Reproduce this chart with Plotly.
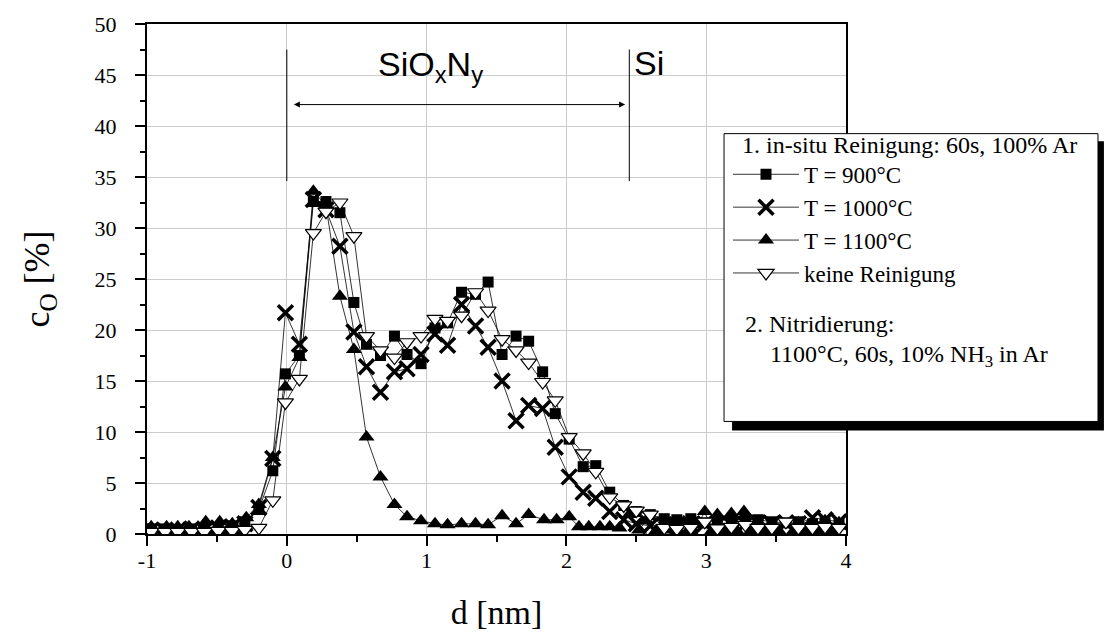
import plotly.graph_objects as go

# depth grid (nm) shared by three series
d_grid = [-0.97, -0.87, -0.78, -0.68, -0.59, -0.49, -0.39, -0.30, -0.20, -0.10,
          -0.01, 0.09, 0.19, 0.28, 0.38, 0.48, 0.57, 0.67, 0.77, 0.86,
          0.96, 1.06, 1.15, 1.25, 1.35, 1.44, 1.54, 1.64, 1.73, 1.83,
          1.92, 2.02, 2.12, 2.21, 2.31, 2.41, 2.50, 2.60, 2.70, 2.79,
          2.89, 2.99, 3.08, 3.18, 3.28, 3.37, 3.47, 3.57, 3.66, 3.76,
          3.85, 3.95]

c_900 = [0.5, 0.5, 0.4, 0.5, 0.5, 0.6, 0.8, 1.2, 2.4, 6.2,
         15.7, 17.5, 32.6, 32.6, 31.5, 22.7, 18.6, 17.5, 19.4, 17.6,
         16.7, 20.2, 20.7, 23.7, 23.5, 24.7, 17.6, 19.4, 18.9, 15.9,
         11.8, 9.3, 6.6, 6.7, 4.1, 2.8, 2.2, 1.9, 1.5, 1.4,
         1.5, 1.1, 1.3, 1.4, 1.5, 1.4, 1.2, 1.1, 1.2, 1.0,
         1.1, 1.0]

c_1000 = [0.4, 0.3, 0.4, 0.5, 0.4, 0.6, 0.7, 1.0, 2.6, 7.4,
          21.7, 18.6, 32.8, 31.8, 28.2, 19.8, 16.4, 13.9, 15.9, 16.2,
          17.6, 19.6, 18.5, 22.5, 20.4, 18.3, 15.0, 11.1, 12.6, 12.3,
          8.5, 5.6, 4.1, 3.5, 2.2, 1.4, 1.0, 0.8, 0.9, 0.8,
          0.9, 1.0, 1.0, 0.9, 1.0, 1.1, 1.0, 1.1, 1.0, 1.6,
          1.4, 1.2]

c_none = [0.2, 0.2, 0.2, 0.2, 0.2, 0.3, 0.3, 0.4, 0.6, 3.3,
          12.9, 15.2, 29.5, 31.6, 32.5, 29.2, 19.4, 18.0, 17.3, 18.8,
          19.4, 21.1, 20.9, 21.4, 23.7, 21.9, 19.1, 18.0, 16.8, 14.9,
          13.1, 9.5, 7.9, 6.1, 3.6, 2.8, 2.3, 1.9, 0.6, 0.5,
          0.6, 1.2, 0.55, 0.7, 0.9, 0.6, 0.6, 1.2, 0.6, 0.6,
          0.7, 0.6]

# 1100 °C series has its own (denser) depth sampling
d_1100 = [-0.97, -0.91, -0.86, -0.82, -0.78, -0.72, -0.70, -0.63, -0.58, -0.53,
          -0.48, -0.43, -0.39, -0.34, -0.29, -0.20, -0.10, -0.01, 0.09, 0.19,
          0.28, 0.38, 0.48, 0.57, 0.67, 0.77, 0.86, 0.96, 1.06, 1.15,
          1.25, 1.35, 1.44, 1.54, 1.64, 1.73, 1.84, 1.93, 2.02, 2.09,
          2.16, 2.24, 2.31, 2.38, 2.45, 2.52, 2.57, 2.64, 2.69, 2.74,
          2.79, 2.84, 2.89, 2.94, 2.99, 3.04, 3.08, 3.13, 3.18, 3.22,
          3.27, 3.32, 3.37, 3.42, 3.47, 3.52, 3.57, 3.62, 3.66, 3.71,
          3.76, 3.81, 3.85, 3.90, 3.95]
c_1100 = [0.7, 0.1, 0.7, 0.1, 0.7, 0.1, 0.7, 0.1, 1.2, 0.1,
          1.2, 0.1, 1.0, 0.1, 1.6, 2.9, 7.5, 14.4, 17.3, 33.6,
          32.2, 23.3, 18.1, 9.5, 5.6, 2.9, 1.7, 1.3, 1.0, 0.9,
          1.0, 1.0, 0.9, 1.8, 1.0, 1.9, 1.4, 1.4, 1.7, 0.7,
          0.7, 0.7, 0.7, 0.6, 1.9, 0.4, 1.3, 0.3, 0.4, 1.0,
          0.3, 1.2, 0.3, 0.9, 2.2, 0.3, 1.9, 0.3, 2.0, 0.3,
          2.2, 0.3, 1.2, 0.3, 1.0, 0.3, 0.9, 0.2, 1.1, 0.2,
          1.0, 0.2, 1.3, 0.2, 1.1]

series_names = ["T = 900°C", "T = 1000°C", "T = 1100°C", "keine Reinigung"]
x_tick_vals = [-1, 0, 1, 2, 3, 4]
x_tick_text = ["-1", "0", "1", "2", "3", "4"]
y_tick_vals = [0, 5, 10, 15, 20, 25, 30, 35, 40, 45, 50]

# layer boundaries / annotation positions (data units)
layer_start = 0.0
layer_end = 2.45
marker_line_bottom = 34.6
marker_line_top = 47.5
arrow_level = 42.1

SERIF = "Liberation Serif, Times New Roman, serif"
SANS = "Liberation Sans, Arial, sans-serif"
LINE = dict(color="black", width=0.8)

fig = go.Figure()

fig.add_trace(go.Scatter(x=d_grid, y=c_900, name=series_names[0], mode="lines+markers",
                         line=LINE, marker=dict(symbol="square", size=11, color="black"),
                         legendrank=1))
fig.add_trace(go.Scatter(x=d_1100, y=c_1100, name=series_names[2], mode="lines+markers",
                         line=LINE, marker=dict(symbol="triangle-up", size=14, color="black"),
                         legendrank=3))
fig.add_trace(go.Scatter(x=d_grid, y=c_1000, name=series_names[1], mode="lines+markers",
                         line=LINE, marker=dict(symbol="x-thin", size=15,
                                                line=dict(color="black", width=3.5)),
                         legendrank=2))
fig.add_trace(go.Scatter(x=d_grid, y=c_none, name=series_names[3], mode="lines+markers",
                         line=LINE, marker=dict(symbol="triangle-down", size=14, color="white",
                                                line=dict(color="black", width=1.2)),
                         legendrank=4))

# legend box with shadow (paper coords)
fig.add_shape(type="rect", xref="paper", yref="paper", x0=0.837, x1=1.369, y0=0.203, y1=0.77,
              fillcolor="black", line=dict(width=0), layer="above")
fig.add_shape(type="rect", xref="paper", yref="paper", x0=0.8255, x1=1.3605, y0=0.2207, y1=0.785,
              fillcolor="white", line=dict(color="black", width=1), layer="above")

# layer markers
for xv in (layer_start, layer_end):
    fig.add_shape(type="line", x0=xv, x1=xv, y0=marker_line_bottom, y1=marker_line_top,
                  line=dict(color="black", width=1))
fig.add_annotation(x=2.42, y=arrow_level, ax=0.04, ay=arrow_level, axref="x", ayref="y",
                   text="", showarrow=True, arrowhead=2, arrowside="end+start",
                   arrowwidth=1, arrowsize=1.2, arrowcolor="black")
fig.add_annotation(x=1.03, y=45.8, text="SiO<sub>x</sub>N<sub>y</sub>", showarrow=False,
                   font=dict(family=SANS, size=34, color="black"))
fig.add_annotation(x=layer_end + 0.02, y=46.2, text="Si", showarrow=False, xanchor="left",
                   font=dict(family=SANS, size=34, color="black"))

# second part of legend text
fig.add_annotation(xref="paper", yref="paper", x=(743 - 147) / 699, y=(534 - 323) / 512,
                   xanchor="left", yanchor="middle", showarrow=False, text="2. Nitridierung:",
                   font=dict(family=SERIF, size=24, color="black"))
fig.add_annotation(xref="paper", yref="paper", x=(768 - 147) / 699, y=(534 - 355) / 512,
                   xanchor="left", yanchor="middle", showarrow=False,
                   text="1100°C, 60s, 10% NH<sub>3</sub> in Ar",
                   font=dict(family=SERIF, size=24, color="black"))

axis_common = dict(showline=True, linecolor="black", linewidth=2, mirror=True,
                   ticks="outside", ticklen=10, tickwidth=1.5, tickcolor="black",
                   showgrid=True, gridcolor="#cccccc", gridwidth=1, zeroline=False,
                   tickfont=dict(family=SERIF, size=22, color="black"))

fig.update_xaxes(range=[-1, 4], tickvals=x_tick_vals, ticktext=x_tick_text, ticklabelstandoff=-4,
                 minor=dict(dtick=0.5, ticklen=6, tickcolor="black", ticks="outside", showgrid=False),
                 title=dict(text="d [nm]", font=dict(family=SERIF, size=34, color="black"), standoff=28),
                 **axis_common)
fig.update_yaxes(range=[0, 50], tickvals=y_tick_vals, ticklabelstandoff=14,
                 minor=dict(dtick=2.5, ticklen=5, tickcolor="black", ticks="outside", showgrid=False),
                 title=dict(text="c<sub>O</sub> [%]", font=dict(family=SERIF, size=36, color="black"), standoff=34),
                 **axis_common)

fig.update_layout(
    width=1112, height=642,
    margin=dict(l=147, r=266, t=22, b=108),
    paper_bgcolor="white", plot_bgcolor="white",
    showlegend=True,
    legend=dict(x=(728 - 147) / 699, y=(534 - 120) / 512, xanchor="left", yanchor="top",
                bgcolor="rgba(0,0,0,0)", borderwidth=0, itemwidth=66,
                font=dict(family=SERIF, size=23, color="black"),
                title=dict(text="&nbsp;&nbsp;1. in-situ Reinigung: 60s, 100% Ar",
                           font=dict(family=SERIF, size=24, color="black")),
                tracegroupgap=0),
)

fig.write_html("out.html", config={"displayModeBar": False},
               post_script="document.body.style.margin='0';")
